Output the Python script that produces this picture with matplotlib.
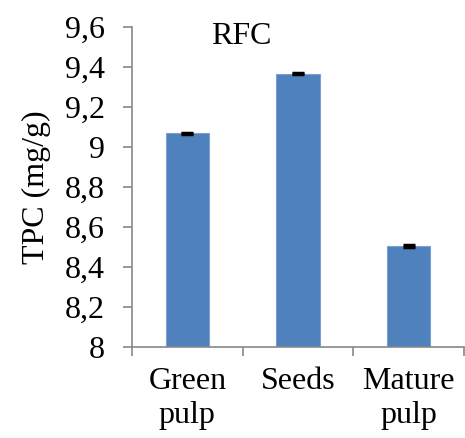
import numpy as np
import matplotlib.pyplot as plt
from matplotlib.ticker import FixedLocator, FuncFormatter

categories = ["Green\npulp", "Seeds", "Mature\npulp"]
tpc = [9.068, 9.368, 8.505]
err = [0.004, 0.004, 0.004]
yticks = [8, 8.2, 8.4, 8.6, 8.8, 9, 9.2, 9.4, 9.6]

plt.rcParams['font.family'] = ['Liberation Serif', 'DejaVu Serif']
fs = 23

fig = plt.figure(figsize=(4.65, 4.38), dpi=100)
ax = fig.add_axes([0.284, 0.208, 0.714, 0.730])

x = np.arange(len(categories))
ax.bar(x, tpc, width=0.39, color="#4F81BD", edgecolor="#7BA0D4", linewidth=0.8,
       yerr=err, error_kw=dict(ecolor="black", elinewidth=1.5, capsize=4.5, capthick=2.5))

ax.set_xlim(-0.5, 2.5)
ax.set_ylim(8, 9.6)
ax.set_yticks(yticks)
ax.yaxis.set_major_formatter(FuncFormatter(lambda v, p: ("%g" % round(v, 1)).replace(".", ",")))
ax.set_xticks(x)
ax.set_xticklabels(categories, fontsize=fs, linespacing=1.24)
ax.xaxis.set_minor_locator(FixedLocator([-0.5, 0.5, 1.5, 2.5]))
ax.tick_params(axis="x", which="major", length=0, pad=14.5)
ax.tick_params(axis="x", which="minor", length=6.5, width=1.2, color="#888888")
ax.tick_params(axis="y", length=6.5, width=1.2, color="#888888", labelsize=fs, pad=13)

for s in ["top", "right"]:
    ax.spines[s].set_visible(False)
for s in ["left", "bottom"]:
    ax.spines[s].set_color("#888888")
    ax.spines[s].set_linewidth(1.2)

ax.set_ylabel("TPC (mg/g)", fontsize=fs, labelpad=10)
ax.text(0.33, 0.97, "RFC", transform=ax.transAxes, ha="center", va="center", fontsize=fs)

fig.savefig("out.png", dpi=100)
